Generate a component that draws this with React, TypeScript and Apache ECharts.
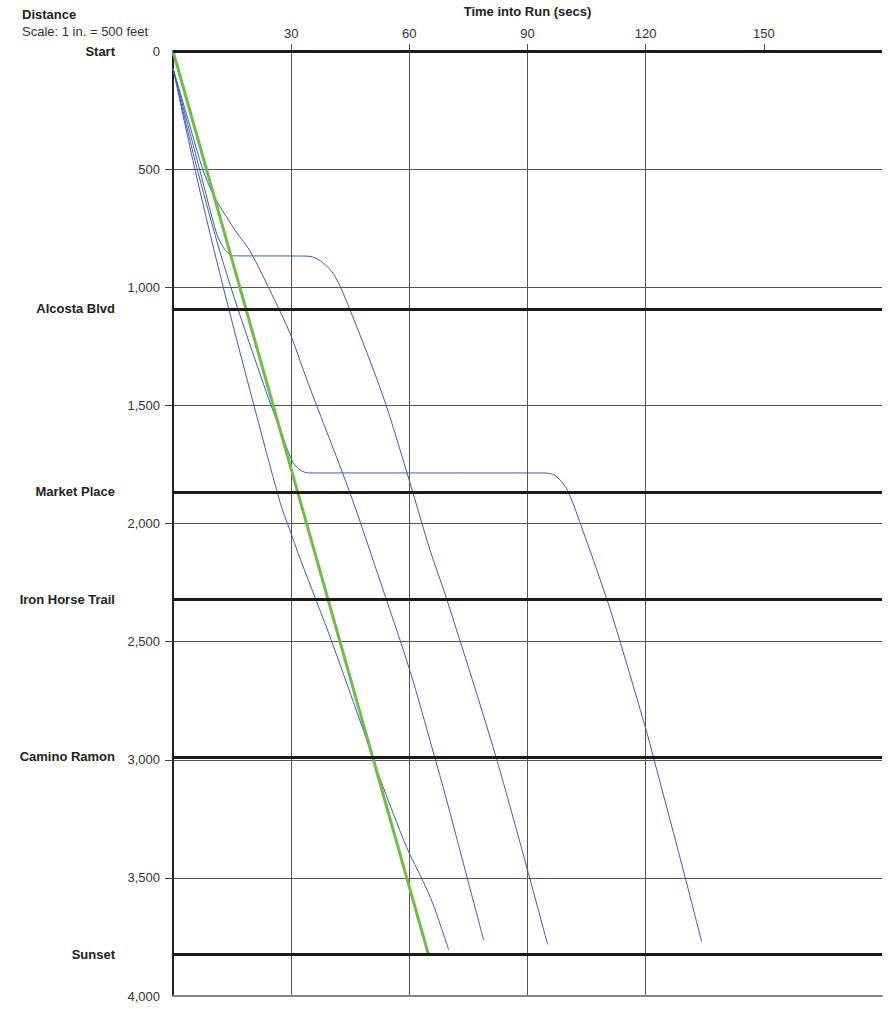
import React, { useEffect, useRef } from 'react';
import * as echarts from 'echarts';

const FONT = '"Liberation Sans", Arial, Helvetica, sans-serif';

// Stations along the line (distance in feet)
const stationNames = ['Start', 'Alcosta Blvd', 'Market Place', 'Iron Horse Trail', 'Camino Ramon', 'Sunset'];
const stationDistances = [0, 1092, 1866, 2320, 2988, 3823];

// Tick positions
const timeTicks = [30, 60, 90, 120, 150];
const distanceTicks = [500, 1000, 1500, 2000, 2500, 3000, 3500];

// Scheduled (ideal) run: [secs, feet]
const scheduledRun = [[0, 0], [64.8, 3822]];

// Observed runs: [secs, feet]
const run1 = [
  [0, 73], [5.6, 504], [11.9, 943], [19.5, 1434], [27.2, 1911], [29.5, 2020], [32.3, 2150],
  [36.5, 2332], [40.6, 2513], [50.8, 2992], [52.5, 3077], [59.3, 3370], [63.5, 3515],
  [66, 3610], [70, 3805],
];
const run2 = [
  [0, 73], [4, 300], [7.6, 504], [10, 600], [11.5, 648], [13.5, 700], [16, 765], [19.5, 845],
  [24.5, 1010], [29.7, 1195], [34.3, 1406], [44.9, 1869], [52, 2215], [60.2, 2626],
  [66, 2963], [69.5, 3173], [78.9, 3766],
];
const run3 = [
  [0, 73], [6.8, 504], [11.1, 774], [12.8, 832], [14.2, 858], [15.4, 867], [33.5, 868],
  [35.5, 872], [38, 895], [41, 950], [44.9, 1094], [53.3, 1460], [59.4, 1785],
  [65.2, 2110], [69.5, 2320], [82.2, 3000], [95.1, 3781],
];
const run4 = [
  [0, 73], [6.2, 504], [13.6, 943], [22.9, 1406], [28.4, 1658], [30.5, 1742], [32.5, 1776],
  [34.5, 1786], [94, 1786], [97, 1797], [99.9, 1852], [103.3, 1995], [110.1, 2318],
  [113.5, 2500], [120.2, 2879], [121.9, 2985], [130, 3496], [134.2, 3770],
];

const observedRuns = [run1, run2, run3, run4];

export default function App() {
  const ref = useRef<HTMLDivElement>(null);

  useEffect(() => {
    if (!ref.current) return;
    const chart = echarts.init(ref.current, null, { renderer: 'svg' });

    const runSeries = observedRuns.map((run, i) => ({
      name: 'Run ' + (i + 1),
      type: 'line',
      data: run,
      showSymbol: false,
      smooth: 0.3,
      silent: true,
      lineStyle: { color: '#3b5cc0', width: 1 },
      z: 3,
    }));

    chart.setOption({
      animation: false,
      textStyle: { fontFamily: FONT },
      grid: { left: 173, right: 8, top: 46, bottom: 13, containLabel: false },
      graphic: [
        {
          type: 'text',
          left: 22,
          top: 8,
          style: { text: 'Distance', font: 'bold 13px ' + FONT, fill: '#222' },
        },
        {
          type: 'text',
          left: 22,
          top: 25,
          style: { text: 'Scale: 1 in. = 500 feet', font: '13px ' + FONT, fill: '#333' },
        },
      ],
      xAxis: [
        {
          type: 'value',
          position: 'top',
          min: 0,
          max: 180,
          interval: 30,
          name: 'Time into Run (secs)',
          nameLocation: 'middle',
          nameGap: 33,
          nameTextStyle: { fontWeight: 'bold', fontSize: 13, color: '#222', fontFamily: FONT },
          axisLine: { show: false },
          axisTick: { show: true, length: 7, customValues: timeTicks, lineStyle: { color: '#555' } },
          axisLabel: { customValues: timeTicks, margin: 11, fontSize: 13, color: '#333', fontFamily: FONT },
          splitLine: { show: true, showMaxLine: false, lineStyle: { color: '#555', width: 1 } },
        },
        {
          type: 'value',
          position: 'bottom',
          min: 0,
          max: 180,
          interval: 30,
          axisLine: { show: true, lineStyle: { color: '#888', width: 2 } },
          axisTick: { show: false },
          axisLabel: { show: false },
          splitLine: { show: false },
        },
      ],
      yAxis: {
        type: 'value',
        inverse: true,
        min: 0,
        max: 4000,
        interval: 500,
        axisLine: { show: true, lineStyle: { color: '#222', width: 2 } },
        axisTick: { show: true, length: 8, customValues: distanceTicks, lineStyle: { color: '#444' } },
        axisLabel: {
          fontSize: 13,
          color: '#333',
          margin: 13,
          verticalAlign: 'middle',
          padding: [15, 0, 0, 0],
          fontFamily: FONT,
          formatter: (v: number) => v.toLocaleString('en-US'),
        },
        splitLine: { show: true, lineStyle: { color: '#555', width: 1 } },
      },
      series: [
        {
          name: 'Stations',
          type: 'line',
          data: [],
          silent: true,
          z: 2,
          markLine: {
            silent: true,
            symbol: ['none', 'none'],
            animation: false,
            lineStyle: { color: '#1a1a1a', width: 3, type: 'solid' },
            label: {
              show: true,
              position: 'start',
              distance: 58,
              formatter: '{b}',
              fontWeight: 'bold',
              fontSize: 13,
              color: '#222',
              fontFamily: FONT,
            },
            emphasis: { disabled: true },
            data: stationNames.map((n, i) => ({ name: n, yAxis: stationDistances[i] })),
          },
        },
        ...runSeries,
        {
          name: 'Schedule',
          type: 'line',
          data: scheduledRun,
          showSymbol: false,
          silent: true,
          lineStyle: { color: '#6cbf45', width: 3 },
          z: 4,
        },
      ],
    });

    return () => chart.dispose();
  }, []);

  return (
    <div
      ref={ref}
      style={{ position: 'absolute', left: 0, top: 0, width: 890, height: 1009 }}
    />
  );
}
